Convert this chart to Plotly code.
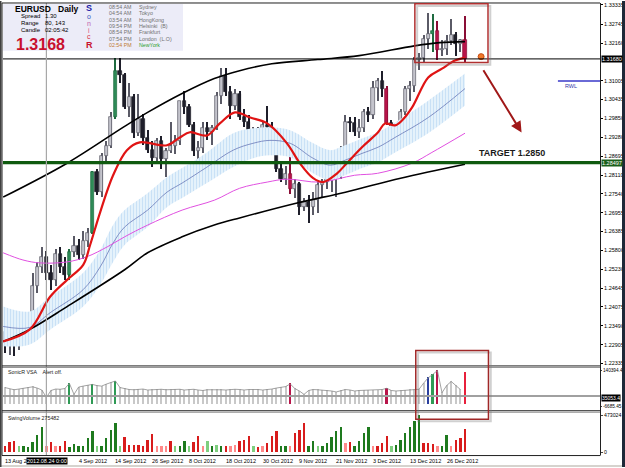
import plotly.graph_objects as go

# ---------------- data ----------------
bar_idx = list(range(101))
opens = [1.2330,1.2305,1.2325,1.2290,1.2345,1.2320,1.2355,1.2470,1.2530,1.2560,
         1.2510,1.2490,1.2570,1.2530,1.2505,1.2575,1.2595,1.2565,1.2610,1.2635,
         1.2820,1.2760,1.2870,1.2900,1.2990,1.3130,1.3120,1.3020,1.3050,1.2940,
         1.2985,1.2925,1.2890,1.2865,1.2915,1.2860,1.2885,1.2900,1.2915,1.3040,
         1.3020,1.2965,1.2885,1.2895,1.2955,1.2945,1.2955,1.3055,1.3115,1.3065,
         1.3025,1.3060,1.2990,1.2975,1.2930,1.2950,1.2930,1.2965,1.2960,1.2925,
         1.2830,1.2800,1.2815,1.2770,1.2785,1.2715,1.2730,1.2715,1.2735,1.2780,
         1.2790,1.2800,1.2810,1.2815,1.2890,1.2975,1.2970,1.2945,1.2955,1.3005,
         1.2995,1.3080,1.3100,1.3075,1.2970,1.2935,1.2960,1.3005,1.3075,1.3085,
         1.3165,1.3170,1.3230,1.3245,1.3255,1.3195,1.3200,1.3222,1.3240,1.3215,
         1.3225]
highs = [1.2372,1.2350,1.2340,1.2375,1.2380,1.2370,1.2510,1.2545,1.2590,1.2580,
         1.2535,1.2585,1.2590,1.2560,1.2585,1.2625,1.2615,1.2640,1.2650,1.2825,
         1.2830,1.2880,1.2915,1.3005,1.3170,1.3170,1.3125,1.3095,1.3060,1.3060,
         1.3000,1.2950,1.2915,1.2925,1.2930,1.2895,1.2975,1.2935,1.3040,1.3070,
         1.3030,1.2975,1.2915,1.2975,1.2975,1.2965,1.3065,1.3140,1.3140,1.3085,
         1.3075,1.3070,1.3015,1.2995,1.2960,1.2960,1.2975,1.3025,1.2975,1.2935,
         1.2850,1.2840,1.2875,1.2800,1.2790,1.2740,1.2750,1.2760,1.2790,1.2800,
         1.2830,1.2830,1.2835,1.2900,1.2995,1.2990,1.2990,1.2985,1.3015,1.3020,
         1.3100,1.3110,1.3130,1.3085,1.2980,1.2965,1.3015,1.3085,1.3100,1.3175,
         1.3185,1.3240,1.3310,1.3305,1.3285,1.3225,1.3240,1.3290,1.3250,1.3230,
         1.3300]
lows = [1.2265,1.2258,1.2255,1.2275,1.2300,1.2305,1.2340,1.2450,1.2510,1.2490,
        1.2460,1.2470,1.2510,1.2490,1.2490,1.2560,1.2550,1.2555,1.2590,1.2630,
        1.2750,1.2745,1.2850,1.2895,1.2985,1.3095,1.3015,1.2990,1.2925,1.2930,
        1.2905,1.2880,1.2835,1.2850,1.2830,1.2805,1.2880,1.2875,1.2905,1.3000,
        1.2960,1.2870,1.2830,1.2880,1.2920,1.2905,1.2950,1.3030,1.3055,1.2985,
        1.3010,1.2980,1.2960,1.2890,1.2885,1.2910,1.2920,1.2945,1.2915,1.2820,
        1.2790,1.2780,1.2755,1.2740,1.2690,1.2700,1.2665,1.2690,1.2695,1.2740,
        1.2770,1.2760,1.2745,1.2800,1.2870,1.2945,1.2930,1.2925,1.2945,1.2975,
        1.2985,1.3040,1.3050,1.2965,1.2880,1.2890,1.2940,1.2995,1.3040,1.3065,
        1.3135,1.3160,1.3200,1.3190,1.3165,1.3178,1.3180,1.3210,1.3178,1.3190,
        1.3160]
closes = [1.2305,1.2325,1.2290,1.2345,1.2320,1.2355,1.2470,1.2530,1.2560,1.2510,
          1.2490,1.2570,1.2530,1.2505,1.2575,1.2595,1.2565,1.2610,1.2635,1.2820,
          1.2760,1.2870,1.2900,1.2990,1.3130,1.3120,1.3020,1.3050,1.2940,1.2985,
          1.2925,1.2890,1.2865,1.2915,1.2860,1.2885,1.2900,1.2915,1.3040,1.3020,
          1.2965,1.2885,1.2895,1.2955,1.2945,1.2955,1.3055,1.3115,1.3065,1.3025,
          1.3060,1.2990,1.2975,1.2930,1.2950,1.2930,1.2965,1.2960,1.2925,1.2830,
          1.2800,1.2815,1.2770,1.2785,1.2715,1.2730,1.2715,1.2735,1.2780,1.2790,
          1.2800,1.2810,1.2815,1.2890,1.2975,1.2970,1.2945,1.2955,1.3005,1.2995,
          1.3080,1.3100,1.3075,1.2970,1.2935,1.2960,1.3005,1.3075,1.3085,1.3165,
          1.3170,1.3230,1.3245,1.3255,1.3195,1.3200,1.3222,1.3240,1.3215,1.3225,
          1.3168]
green_bars = [14, 19, 24, 93]
crimson_bars = [62, 83, 94, 100]

date_tick_idx = [0, 16, 24, 32, 40, 48, 56, 64, 72, 80, 88, 96]
date_tick_txt = ["13 Aug 2", "4 Sep 2012", "14 Sep 2012", "26 Sep 2012", "8 Oct 2012",
                 "18 Oct 2012", "30 Oct 2012", "9 Nov 2012", "21 Nov 2012", "3 Dec 2012",
                 "13 Dec 2012", "26 Dec 2012"]
price_ticks = [1.33335, 1.32745, 1.32160, 1.31005, 1.30435, 1.29850, 1.29280, 1.28695,
               1.28110, 1.27540, 1.26955, 1.26385, 1.25800, 1.25230, 1.24645, 1.24075,
               1.23490, 1.22905, 1.22335]
bid_price = 1.31680
level_price = 1.28497
rwl_price = 1.31005
cursor_bar = 9

upper_ma_x = [-0.4, 13.5, 26, 31, 38.5, 45.5, 51, 58, 68, 77, 89, 94.5, 100]
upper_ma_y = [1.2744, 1.2848, 1.2961, 1.3004, 1.3062, 1.3108, 1.3132, 1.3153, 1.3166,
              1.3178, 1.3208, 1.3218, 1.3221]
lower_ma_x = [-0.4, 5.4, 13.5, 26, 31, 38.5, 45.5, 51, 63.5, 74, 86, 100]
lower_ma_y = [1.2301, 1.2338, 1.2408, 1.2521, 1.2573, 1.2622, 1.2658, 1.2680, 1.2726,
              1.2759, 1.2802, 1.2845]
red_ma_x = [-0.4, 5.4, 9.8, 13.5, 17, 18.5, 20.7, 23.5, 26.5, 29.3, 35.2, 38, 40.2, 43.9,
            46.7, 50, 53.3, 57, 61.3, 64.1, 67, 69.1, 72.2, 74.3, 77.6, 81.1, 82.6, 84.8,
            86.3, 88.5, 92, 95, 97.8, 100]
red_ma_y = [1.2301, 1.2338, 1.2438, 1.2490, 1.2536, 1.2597, 1.2698, 1.2811, 1.2888, 1.2912,
            1.2903, 1.2927, 1.2943, 1.2933, 1.2970, 1.3004, 1.2988, 1.2970, 1.2909, 1.2848,
            1.2802, 1.2790, 1.2817, 1.2848, 1.2897, 1.2943, 1.2970, 1.2964, 1.2979, 1.3019,
            1.3111, 1.3138, 1.3163, 1.3172]
mag_ma_x = [-0.4, 3.9, 7.6, 13.5, 17.8, 22.2, 26, 31, 38.5, 45.6, 51, 57, 61.3, 68.5, 76,
            81, 88.5, 92.8, 100]
mag_ma_y = [1.2573, 1.2551, 1.2542, 1.2545, 1.2561, 1.2591, 1.2622, 1.2658, 1.2704, 1.2735,
            1.2771, 1.2790, 1.2799, 1.2790, 1.2811, 1.2817, 1.2848, 1.2881, 1.2940]
band_x = [-0.4, 5.4, 9.8, 17, 20.7, 23.5, 26, 31, 35.2, 38.5, 43.9, 49.6, 53.9, 57.6, 62,
          67, 70.7, 73.9, 77.6, 81.1, 84.8, 92, 100]
band_mid = [1.2347, 1.2344, 1.2389, 1.2460, 1.2530, 1.2603, 1.2652, 1.2704, 1.2759, 1.2787,
            1.2836, 1.2888, 1.2909, 1.2918, 1.2909, 1.2863, 1.2842, 1.2857, 1.2878, 1.2897,
            1.2927, 1.2988, 1.3077]
band_hi = [1.2408, 1.2393, 1.2438, 1.2512, 1.2582, 1.2658, 1.2704, 1.2756, 1.2805, 1.2833,
           1.2881, 1.2940, 1.2955, 1.2958, 1.2949, 1.2909, 1.2888, 1.2903, 1.2924, 1.2943,
           1.2973, 1.3040, 1.3123]
band_lo = [1.2286, 1.2292, 1.2337, 1.2408, 1.2475, 1.2545, 1.2597, 1.2652, 1.2713, 1.2741,
           1.2787, 1.2836, 1.2863, 1.2872, 1.2866, 1.2817, 1.2796, 1.2811, 1.2833, 1.2851,
           1.2881, 1.2940, 1.3025]

vsa_vals = [70000, 64000, 61000, 64000, 66000, 70000, 73000, 68000, 60000, 30000,
            58000, 64000, 63000, 66000, 87000, 42000, 72000, 76000, 80000, 83000,
            78000, 76000, 84000, 90000, 97000, 70000, 65000, 62000, 61000, 63000,
            64000, 60000, 62000, 64000, 63000, 61000, 62000, 64000, 63000, 60000,
            62000, 63000, 60000, 58000, 61000, 62000, 63000, 61000, 60000, 62000,
            63000, 62000, 60000, 62000, 63000, 62000, 60000, 61000, 64000, 68000,
            72000, 74000, 85000, 66000, 56000, 42000, 58000, 62000, 61000, 60000,
            58000, 56000, 52000, 58000, 62000, 60000, 56000, 58000, 59000, 60000,
            58000, 60000, 62000, 67000, 58000, 56000, 58000, 60000, 61000, 62000,
            63000, 88000, 110000, 124000, 140000, 49000, 78000, 95000, 80000, 62000]
vsa_last_bar = 132000
vsa_max, vsa_min, vsa_level = 140394.4, -6685.45, 35053.4
vsa_color_idx = [14, 19, 24, 62, 83, 92, 93, 94, 100]
vsa_color_val = ["#2f9a55", "#2f9a55", "#2f9a55", "#b8144a", "#b8144a", "#2a3f9e",
                 "#2f9a55", "#b8144a", "#e8203c"]

swing_vals = [70000, 129000, 141000, 70000, 70000, 62000, 129000, 219000, 317000, 78000,
              129000, 70000, 70000, 137000, 62000, 102000, 70000, 78000, 180000, 266000,
              78000, 78000, 180000, 274000, 364000, 78000, 188000, 90000, 90000, 90000,
              78000, 149000, 235000, 78000, 78000, 78000, 137000, 78000, 78000, 137000,
              78000, 129000, 207000, 78000, 137000, 78000, 90000, 78000, 78000, 78000,
              90000, 137000, 149000, 207000, 78000, 58000, 70000, 110000, 207000, 266000,
              70000, 78000, 78000, 246000, 286000, 364000, 78000, 137000, 70000, 78000,
              117000, 188000, 266000, 313000, 110000, 129000, 78000, 141000, 246000, 317000,
              70000, 78000, 110000, 207000, 70000, 90000, 156000, 238000, 317000, 391000,
              473000, 110000, 117000, 98000, 78000, 70000, 219000, 78000, 156000, 180000,
              293000]
swing_cols = ["r","r","r","lg","g","g","g","g","g","lr",
              "r","lr","r","r","g","g","g","g","g","g",
              "lg","g","g","g","g","lg","r","r","r","r",
              "r","r","r","lr","lr","lr","r","lg","g","g",
              "lg","r","r","lr","lg","g","lg","g","r","lr",
              "lr","r","r","r","lg","r","lr","r","r","r",
              "g","g","lr","r","r","r","g","g","lg","g",
              "g","g","g","g","lr","r","g","g","g","g",
              "lr","r","r","r","lg","g","g","g","g","g",
              "g","r","r","r","lr","g","g","lr","r","r",
              "r"]
swing_max = 473024
swing_label = "SwingVolume 275482"

# ---------------- geometry helpers ----------------
W, H = 625, 468
def PX(x): return x / W
def PY(y): return 1 - y / H

BAR0_PX, BAR_STEP = 5.0, 4.6
X_LEFT, X_RIGHT = 3, 600
xr = [(X_LEFT - BAR0_PX) / BAR_STEP, (X_RIGHT - BAR0_PX) / BAR_STEP]

MAIN_TOP, MAIN_BOT = 2, 366
P_TOP_VAL, P_TOP_PX, P_PER_PX = 1.33335, 4, 0.11 / 360
yr_main = [P_TOP_VAL - (MAIN_BOT - P_TOP_PX) * P_PER_PX, P_TOP_VAL + (P_TOP_PX - MAIN_TOP) * P_PER_PX]
def py_price(p): return P_TOP_PX + (P_TOP_VAL - p) / P_PER_PX

VSA_TOP, VSA_BOT = 368, 411
v_per = (vsa_max - vsa_min) / 36.0
yr_vsa = [vsa_max - (VSA_BOT - 371) * v_per, vsa_max + (371 - VSA_TOP) * v_per]
SW_TOP, SW_BOT = 413, 456
s_per = swing_max / 37.0
yr_sw = [-(SW_BOT - 453) * s_per, swing_max + (416 - SW_TOP) * s_per]

FONT = "Liberation Sans, Arial, sans-serif"

fig = go.Figure()

# ---------------- main panel ----------------
fig.add_trace(go.Scatter(x=band_x, y=band_hi, mode="lines", line=dict(width=0, shape="spline"),
                         hoverinfo="skip", showlegend=False, xaxis="x", yaxis="y"))
fig.add_trace(go.Scatter(x=band_x, y=band_lo, mode="lines", line=dict(width=0, shape="spline"),
                         fill="tonexty", fillcolor="rgba(200,225,245,0.5)",
                         fillpattern=dict(shape="|", fgcolor="#a9d0ef", bgcolor="#e8f3fc",
                                          size=3, solidity=0.4),
                         hoverinfo="skip", showlegend=False, xaxis="x", yaxis="y"))
fig.add_trace(go.Scatter(x=band_x, y=band_mid, mode="lines",
                         line=dict(color="#6a78b8", width=0.8, shape="spline"),
                         hoverinfo="skip", showlegend=False, xaxis="x", yaxis="y"))
fig.add_trace(go.Scatter(x=mag_ma_x, y=mag_ma_y, mode="lines",
                         line=dict(color="#e050e0", width=1, shape="spline"),
                         hoverinfo="skip", showlegend=False, xaxis="x", yaxis="y"))
fig.add_trace(go.Scatter(x=upper_ma_x, y=upper_ma_y, mode="lines",
                         line=dict(color="#000000", width=1.6, shape="spline"),
                         hoverinfo="skip", showlegend=False, xaxis="x", yaxis="y"))
fig.add_trace(go.Scatter(x=lower_ma_x, y=lower_ma_y, mode="lines",
                         line=dict(color="#000000", width=1.6, shape="spline"),
                         hoverinfo="skip", showlegend=False, xaxis="x", yaxis="y"))

body_fill, body_line = [], []
for i in bar_idx:
    if i in green_bars:
        body_fill.append("#2e8b57"); body_line.append("#1f6b40")
    elif i in crimson_bars:
        body_fill.append("#b8144a"); body_line.append("#8a0e36")
    elif closes[i] >= opens[i]:
        body_fill.append("#c4c4cc"); body_line.append("#5a5a66")
    else:
        body_fill.append("#1e1e2a"); body_line.append("#1e1e2a")
fig.add_trace(go.Bar(x=bar_idx, base=lows, y=[h - l for h, l in zip(highs, lows)], width=0.24,
                     marker=dict(color=body_line, line=dict(width=0)),
                     hoverinfo="skip", showlegend=False, xaxis="x", yaxis="y"))
fig.add_trace(go.Bar(x=bar_idx, base=[min(o, c) for o, c in zip(opens, closes)],
                     y=[max(abs(c - o), 0.00012) for o, c in zip(opens, closes)], width=0.66,
                     marker=dict(color=body_fill, line=dict(color=body_line, width=0.7)),
                     hoverinfo="skip", showlegend=False, xaxis="x", yaxis="y"))

fig.add_trace(go.Scatter(x=red_ma_x, y=red_ma_y, mode="lines",
                         line=dict(color="#e01414", width=2.2, shape="spline"),
                         hoverinfo="skip", showlegend=False, xaxis="x", yaxis="y"))

fig.add_trace(go.Scatter(x=[103.5], y=[1.3175], mode="markers",
                         marker=dict(size=6, color="#f07828", line=dict(color="#c84a10", width=1)),
                         hoverinfo="skip", showlegend=False, xaxis="x", yaxis="y"))

# ---------------- VSA panel ----------------
fig.add_trace(go.Bar(x=bar_idx[:len(vsa_vals)], y=vsa_vals, width=0.22,
                     marker=dict(color="#c8c8c8", line=dict(width=0)),
                     hoverinfo="skip", showlegend=False, xaxis="x2", yaxis="y2"))
vsa_all = vsa_vals + [vsa_last_bar]
fig.add_trace(go.Bar(x=vsa_color_idx, y=[vsa_all[i] for i in vsa_color_idx], width=0.42,
                     marker=dict(color=vsa_color_val, line=dict(width=0)),
                     hoverinfo="skip", showlegend=False, xaxis="x2", yaxis="y2"))
fig.add_trace(go.Scatter(x=bar_idx[:len(vsa_vals)], y=vsa_vals, mode="lines",
                         line=dict(color="#8c8c8c", width=0.8),
                         hoverinfo="skip", showlegend=False, xaxis="x2", yaxis="y2"))

# ---------------- Swing volume panel ----------------
cmap = {"g": "#1e7a1e", "lg": "#7fcf7f", "r": "#d81c1c", "lr": "#ff8a8a"}
fig.add_trace(go.Bar(x=bar_idx, y=swing_vals, width=0.5,
                     marker=dict(color=[cmap[c] for c in swing_cols], line=dict(width=0)),
                     hoverinfo="skip", showlegend=False, xaxis="x3", yaxis="y3"))

# ---------------- layout ----------------
xdom = [PX(X_LEFT), PX(X_RIGHT)]
axis_common = dict(range=xr, showgrid=False, zeroline=False, showticklabels=False,
                   showline=False, ticks="", fixedrange=True)
fig.update_layout(
    width=W, height=H, margin=dict(l=0, r=0, t=0, b=0),
    paper_bgcolor="white", plot_bgcolor="white", barmode="overlay", bargap=0,
    showlegend=False, font=dict(family=FONT, color="#000000"),
    xaxis=dict(domain=xdom, anchor="y", **axis_common),
    xaxis2=dict(domain=xdom, anchor="y2", **axis_common),
    xaxis3=dict(domain=xdom, anchor="y3", **axis_common),
    yaxis=dict(domain=[PY(MAIN_BOT), PY(MAIN_TOP)], range=yr_main, side="right", anchor="x",
               tickvals=price_ticks, ticktext=[f"{v:.5f}" for v in price_ticks],
               tickfont=dict(size=5.5, color="#000"), ticks="outside", ticklen=2,
               tickcolor="#000", showgrid=False, zeroline=False, showline=False),
    yaxis2=dict(domain=[PY(VSA_BOT), PY(VSA_TOP)], range=yr_vsa, side="right", anchor="x2",
                tickvals=[vsa_max, vsa_min], ticktext=["140394.4", "-6685.45"],
                tickfont=dict(size=4.7, color="#000"), ticks="outside", ticklen=1,
                showgrid=False, zeroline=False, showline=False),
    yaxis3=dict(domain=[PY(SW_BOT), PY(SW_TOP)], range=yr_sw, side="right", anchor="x3",
                tickvals=[swing_max, 0], ticktext=[str(swing_max), "0"],
                tickfont=dict(size=5.2, color="#000"), ticks="outside", ticklen=2,
                showgrid=False, zeroline=False, showline=False),
)

shapes = []
shapes.append(dict(type="rect", xref="paper", yref="paper", x0=PX(3), x1=PX(183), y0=PY(50), y1=PY(3),
                   fillcolor="#ececf8", line=dict(width=0), layer="below"))
shapes.append(dict(type="line", xref="paper", yref="y", x0=PX(3), x1=PX(600), y0=bid_price, y1=bid_price,
                   line=dict(color="#000", width=1)))
shapes.append(dict(type="line", xref="paper", yref="y", x0=PX(3), x1=PX(600), y0=level_price, y1=level_price,
                   line=dict(color="#0f5a0f", width=3.2)))
shapes.append(dict(type="line", xref="x", yref="y", x0=120.2, x1=xr[1], y0=rwl_price, y1=rwl_price,
                   line=dict(color="#3838c8", width=1.5)))
shapes.append(dict(type="line", xref="x", yref="paper", x0=cursor_bar, x1=cursor_bar, y0=PY(456), y1=PY(2),
                   line=dict(color="#a8a8a8", width=1.2)))
shapes.append(dict(type="line", xref="paper", yref="y2", x0=PX(3), x1=PX(600), y0=vsa_level, y1=vsa_level,
                   line=dict(color="#a0a0a0", width=2)))
for y in [2, 366.5, 411.5, 456.5]:
    shapes.append(dict(type="line", xref="paper", yref="paper", x0=PX(2), x1=PX(600), y0=PY(y), y1=PY(y),
                       line=dict(color="#202020", width=1)))
for y in [368, 413]:
    shapes.append(dict(type="line", xref="paper", yref="paper", x0=PX(2), x1=PX(600), y0=PY(y), y1=PY(y),
                       line=dict(color="#909090", width=1)))
shapes.append(dict(type="line", xref="paper", yref="paper", x0=PX(2), x1=PX(2), y0=PY(456.5), y1=PY(2),
                   line=dict(color="#202020", width=1)))
shapes.append(dict(type="line", xref="paper", yref="paper", x0=PX(600.5), x1=PX(600.5), y0=PY(456.5), y1=PY(2),
                   line=dict(color="#202020", width=1)))
shapes.append(dict(type="rect", xref="paper", yref="paper", x0=PX(622), x1=1, y0=0, y1=1,
                   fillcolor="#1e2838", line=dict(width=0)))
shapes.append(dict(type="rect", xref="paper", yref="paper", x0=0, x1=PX(622), y0=0, y1=PY(466),
                   fillcolor="#d6d3ce", line=dict(width=0)))
shapes.append(dict(type="rect", xref="paper", yref="paper", x0=0, x1=PX(1.5), y0=0, y1=1,
                   fillcolor="#404040", line=dict(width=0)))
shapes.append(dict(type="rect", xref="x", yref="y", x0=89.6, x1=105.5, y0=1.3150, y1=1.3330,
                   line=dict(color="rgba(120,120,120,0.35)", width=2)))
shapes.append(dict(type="rect", xref="x", yref="y", x0=89.1, x1=105.0, y0=1.3157, y1=1.3337,
                   line=dict(color="#b03030", width=1.5)))
shapes.append(dict(type="rect", xref="x", yref="paper", x0=89.8, x1=105.6, y0=PY(422), y1=PY(353),
                   line=dict(color="rgba(120,120,120,0.35)", width=2)))
shapes.append(dict(type="rect", xref="x", yref="paper", x0=89.3, x1=105.1, y0=PY(420), y1=PY(351),
                   line=dict(color="#a02828", width=1.5)))
fig.update_layout(shapes=shapes)

ann = []
def txt(x, y, s, size=5.5, color="#000", bold=False, anchor="left", bg=None, **kw):
    d = dict(x=PX(x), y=PY(y), xref="paper", yref="paper", text=f"<b>{s}</b>" if bold else s,
             showarrow=False, xanchor=anchor, yanchor="middle",
             font=dict(size=size, color=color, family=FONT))
    if bg:
        d.update(bgcolor=bg, borderpad=0)
    d.update(kw)
    ann.append(d)

txt(13, 8, "EURUSD", 8.5, "#000", True)
txt(56, 8, "Daily", 8.5, "#000", True)
txt(19, 15.5, "Spread", 6); txt(43, 15.5, "1.30", 6)
txt(19, 22.5, "Range", 6); txt(43, 22.5, "80, 143", 6)
txt(19, 29.5, "Candle", 6); txt(43, 29.5, "02:05:42", 6)
txt(14, 43.5, "1.3168", 16, "#c8102e", True)
sonic = [("S", 7.5, 9, "#1c1ca8", True), ("o", 16, 7, "#3a55c0", False), ("n", 23, 7, "#c060b0", False),
         ("i", 29.5, 7, "#e05080", False), ("c", 36, 7, "#d83048", False), ("R", 44, 9, "#c8102e", True)]
for ch, yy, sz, col, b in sonic:
    txt(89, yy, ch, sz, col, b, anchor="center")
times = ["08:54 AM", "04:54 AM", "03:54 AM", "09:54 PM", "08:54 PM", "07:54 PM", "02:54 PM"]
cities = ["Sydney", "Tokyo", "HongKong", "Helsinki  (B)", "Frankfurt", "London  (L.O)", "NewYork"]
ys = [6, 12.4, 19, 25.2, 31.4, 37.8, 44]
for k, (t, c, yy) in enumerate(zip(times, cities, ys)):
    last = k == len(times) - 1
    txt(107, yy, t, 5.3, "#c07a30" if last else "#707070")
    txt(137, yy, c, 5.3, "#2ea02e" if last else "#707070")

txt(601, py_price(bid_price), f"{bid_price:.5f}", 5.5, "#fff", bg="#000")
txt(601, py_price(level_price), f"{level_price:.5f}", 5.5, "#fff", bg="#1a5e1a")
txt(563, py_price(rwl_price) + 5, "RWL", 5.5, "#3838a8")
ann.append(dict(x=110.3, y=1.2878, xref="x", yref="y", text="<b>TARGET 1.2850</b>", showarrow=False,
                xanchor="center", yanchor="middle", font=dict(size=9, color="#1a1a1a", family=FONT)))
ann.append(dict(x=112.3, y=1.2942, xref="x", yref="y", ax=103.8, ay=1.3138, axref="x", ayref="y",
                text="", showarrow=True, arrowhead=2, arrowsize=1.1, arrowwidth=2, arrowcolor="#a01818"))
txt(6, 373, "SonicR VSA    Alert off.", 5.3, "#202020")
txt(601, 399, f"{vsa_level:.1f}", 5.0, "#fff", bg="#000")
txt(6, 419, swing_label, 5.3, "#202020")
for i, s in zip(date_tick_idx, date_tick_txt):
    ann.append(dict(x=i, y=PY(461.5), xref="x3", yref="paper", text=s, showarrow=False,
                    xanchor="left", yanchor="middle", xshift=-2,
                    font=dict(size=5.5, color="#000", family=FONT)))
ann.append(dict(x=cursor_bar, y=PY(461.5), xref="x3", yref="paper", text="2012.08.24 0:00",
                showarrow=False, xanchor="center", yanchor="middle", bgcolor="#000", borderpad=0,
                xshift=1, font=dict(size=5.5, color="#fff", family=FONT)))
fig.update_layout(annotations=ann)

fig.write_html("out.html")
